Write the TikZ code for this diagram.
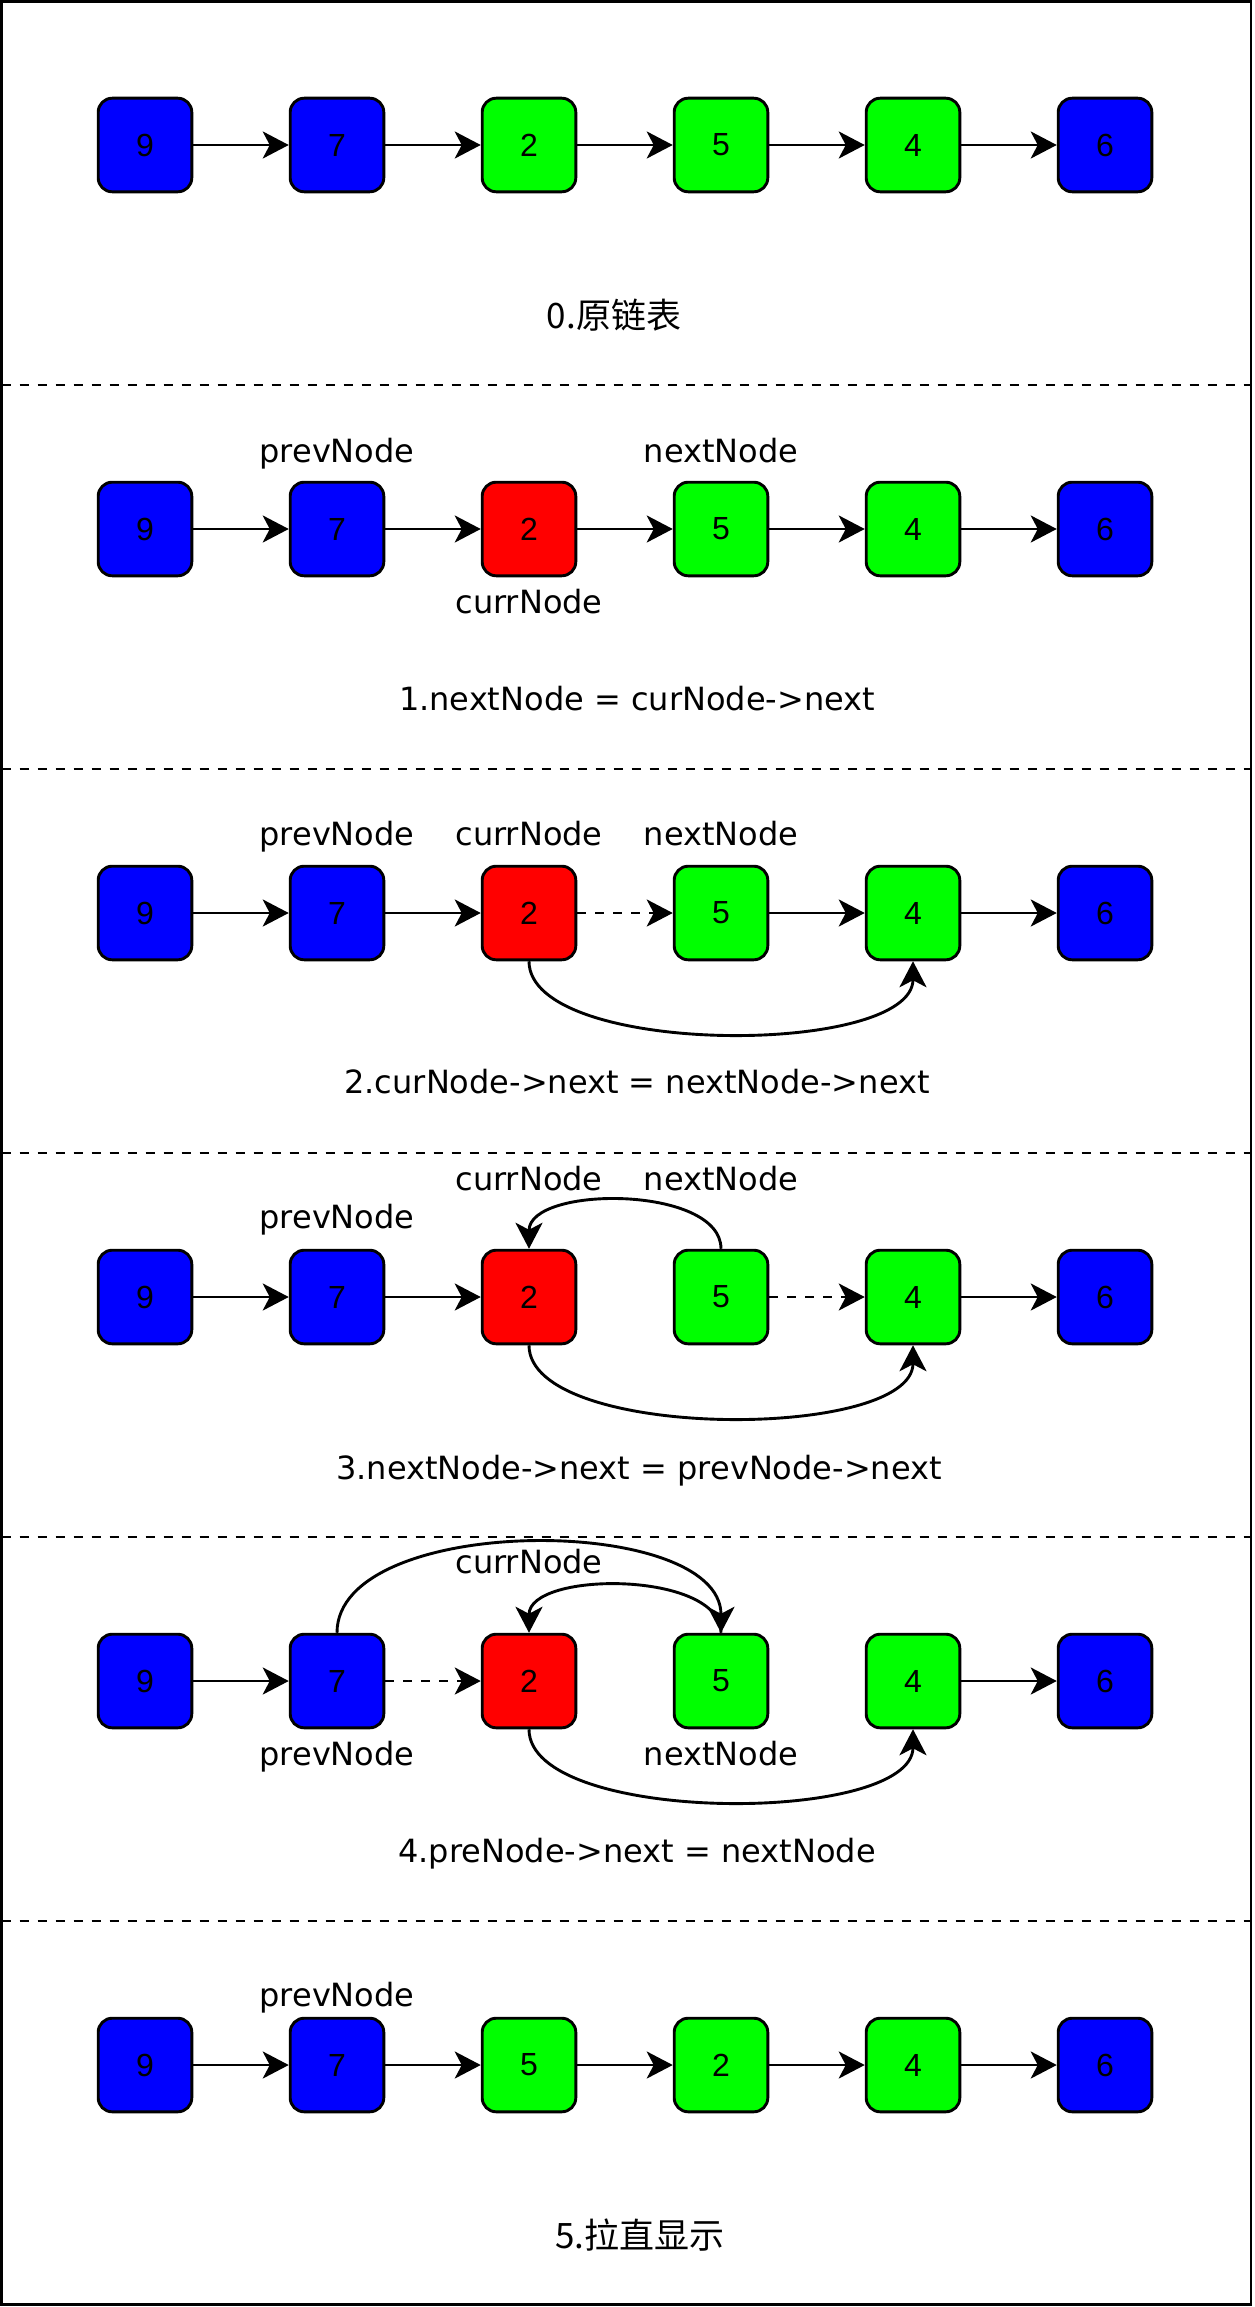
\documentclass[tikz,border=0pt]{standalone}
\usepackage{fontspec}
\usepackage{tikz}
\usetikzlibrary{arrows.meta}
\usetikzlibrary{positioning}
\setmainfont{DejaVu Sans}
\newfontfamily\digfont{Liberation Sans}
\newfontfamily\cjkfont{Noto Sans CJK SC}
\tikzstyle{lst}=[x=0.5pt, y=0.5pt, line width=1.45pt,
                >={Stealth[length=13pt,width=13.5pt,inset=3.5pt]}]
\tikzstyle{lnode}=[draw=black, rounded corners=7pt, minimum size=46.8pt,
                inner sep=0, font=\digfont\fontsize{16}{16}\selectfont]
\tikzstyle{blu}=[lnode, fill=blue]
\tikzstyle{grnbox}=[lnode, fill=green]
\tikzstyle{redbox}=[lnode, fill=red]
\tikzstyle{lbl}=[anchor=base, inner sep=0, font=\fontsize{16}{16}\selectfont]
\tikzstyle{capt}=[lbl]
\tikzstyle{dsh}=[dash pattern=on 4.5pt off 4.5pt]

\begin{document}
\begin{tikzpicture}[lst]
  \path[use as bounding box] (0,0) rectangle (1254,-2307);
  \draw (1.5,-1.5) rectangle (1251,-2304.5);
  % separators
  \draw[dsh] (1.5,-385) -- (1251,-385);
  \draw[dsh] (1.5,-769) -- (1251,-769);
  \draw[dsh] (1.5,-1153) -- (1251,-1153);
  \draw[dsh] (1.5,-1537) -- (1251,-1537);
  \draw[dsh] (1.5,-1921) -- (1251,-1921);

  % 0
  \node[blu] (a9) at (145,-145) {9};
  \node[blu] (a7) at (337,-145) {7};
  \node[grnbox] (a2) at (529,-145) {2};
  \node[grnbox] (a5) at (721,-145) {5};
  \node[grnbox] (a4) at (913,-145) {4};
  \node[blu] (a6) at (1105,-145) {6};
  \node[capt, font=\cjkfont\fontsize{17.5}{17.5}\selectfont] (acap) at (614,-328) {0.原链表};
  \path[->]
    (a9) edge (a7)
    (a7) edge (a2)
    (a2) edge (a5)
    (a5) edge (a4)
    (a4) edge (a6);

  % 1
  \node[blu] (b9) at (145,-529) {9};
  \node[blu] (b7) at (337,-529) {7};
  \node[redbox] (b2) at (529,-529) {2};
  \node[grnbox] (b5) at (721,-529) {5};
  \node[grnbox] (b4) at (913,-529) {4};
  \node[blu] (b6) at (1105,-529) {6};
  \node[lbl] (bprev) at (337,-462) {prevNode};
  \node[lbl] (bnext) at (721,-462) {nextNode};
  \node[lbl] (bcurr) at (529,-613) {currNode};
  \node[capt] (bcap) at (637,-710) {1.nextNode = curNode->next};
  \path[->]
    (b9) edge (b7)
    (b7) edge (b2)
    (b2) edge (b5)
    (b5) edge (b4)
    (b4) edge (b6);

  % 2
  \node[blu] (c9) at (145,-913) {9};
  \node[blu] (c7) at (337,-913) {7};
  \node[redbox] (c2) at (529,-913) {2};
  \node[grnbox] (c5) at (721,-913) {5};
  \node[grnbox] (c4) at (913,-913) {4};
  \node[blu] (c6) at (1105,-913) {6};
  \node[lbl] (cprev) at (337,-845) {prevNode};
  \node[lbl] (ccurr) at (529,-845) {currNode};
  \node[lbl] (cnext) at (721,-845) {nextNode};
  \node[capt] (ccap) at (637,-1093) {2.curNode->next = nextNode->next};
  \path[->]
    (c9) edge (c7)
    (c7) edge (c2)
    (c2) edge[dsh] (c5)
    (c5) edge (c4)
    (c4) edge (c6)
    (c2.south) edge[out=-90, in=-90, looseness=0.64] (c4.south);

  % 3
  \node[blu] (d9) at (145,-1297) {9};
  \node[blu] (d7) at (337,-1297) {7};
  \node[redbox] (d2) at (529,-1297) {2};
  \node[grnbox] (d5) at (721,-1297) {5};
  \node[grnbox] (d4) at (913,-1297) {4};
  \node[blu] (d6) at (1105,-1297) {6};
  \node[lbl] (dprev) at (337,-1228) {prevNode};
  \node[lbl] (dcurr) at (529,-1190) {currNode};
  \node[lbl] (dnext) at (721,-1190) {nextNode};
  \node[capt] (dcap) at (639,-1479) {3.nextNode->next = prevNode->next};
  \path[->]
    (d9) edge (d7)
    (d7) edge (d2)
    (d5) edge[dsh] (d4)
    (d4) edge (d6)
    (d5.north) edge[out=90, in=90, looseness=0.85] (d2.north)
    (d2.south) edge[out=-90, in=-90, looseness=0.64] (d4.south);

  % 4
  \node[blu] (e9) at (145,-1681) {9};
  \node[blu] (e7) at (337,-1681) {7};
  \node[redbox] (e2) at (529,-1681) {2};
  \node[grnbox] (e5) at (721,-1681) {5};
  \node[grnbox] (e4) at (913,-1681) {4};
  \node[blu] (e6) at (1105,-1681) {6};
  \node[lbl] (ecurr) at (529,-1573) {currNode};
  \node[lbl] (eprev) at (337,-1765) {prevNode};
  \node[lbl] (enext) at (721,-1765) {nextNode};
  \node[capt] (ecap) at (637,-1862) {4.preNode->next = nextNode};
  \path[->]
    (e9) edge (e7)
    (e7) edge[dsh] (e2)
    (e4) edge (e6)
    (e7.north) edge[out=90, in=90, looseness=0.8] (e5.north)
    (e5.north) edge[out=90, in=90, looseness=0.83] (e2.north)
    (e2.south) edge[out=-90, in=-90, looseness=0.64] (e4.south);

  % 5
  \node[blu] (f9) at (145,-2065) {9};
  \node[blu] (f7) at (337,-2065) {7};
  \node[grnbox] (f5) at (529,-2065) {5};
  \node[grnbox] (f2) at (721,-2065) {2};
  \node[grnbox] (f4) at (913,-2065) {4};
  \node[blu] (f6) at (1105,-2065) {6};
  \node[lbl] (fprev) at (337,-2006) {prevNode};
  \node[capt, font=\cjkfont\fontsize{17.5}{17.5}\selectfont] (fcap) at (640,-2248) {5.拉直显示};
  \path[->]
    (f9) edge (f7)
    (f7) edge (f5)
    (f5) edge (f2)
    (f2) edge (f4)
    (f4) edge (f6);
\end{tikzpicture}
\end{document}
